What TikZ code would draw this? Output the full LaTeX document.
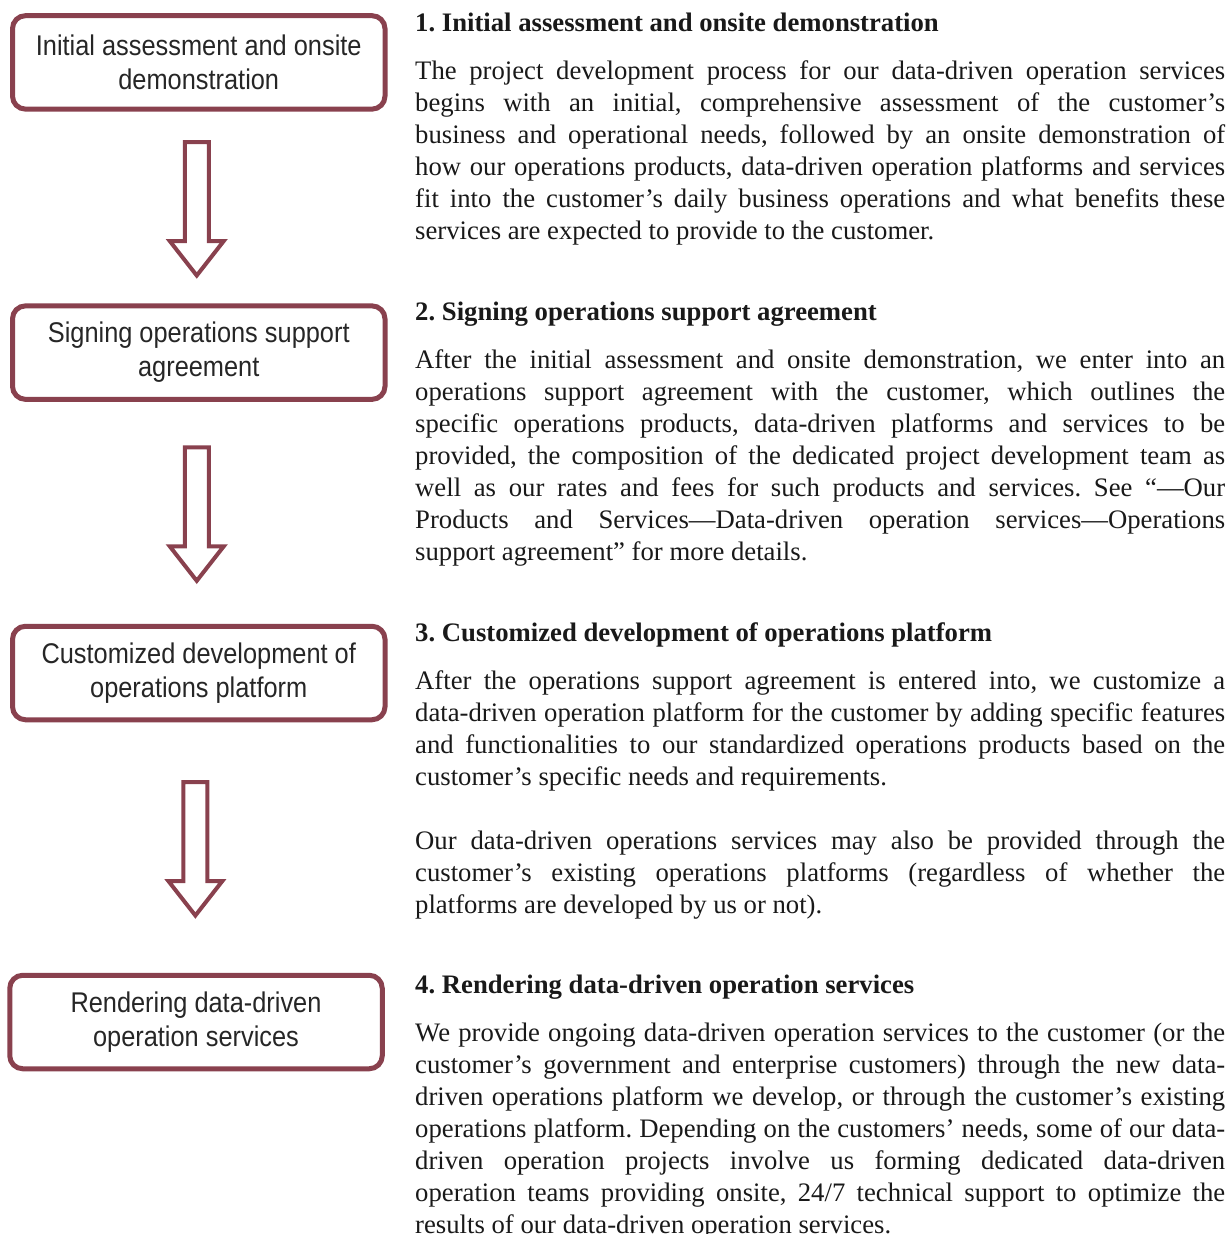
\documentclass[tikz,border=0pt]{standalone}
\usepackage{fontspec}
\setmainfont{Liberation Serif}
\newfontfamily\boxfont[FakeStretch=0.89]{Liberation Sans}
\usetikzlibrary{calc}
\definecolor{wine}{RGB}{137,65,78}
\def\sectfont{\fontsize{26.7}{32}\selectfont\frenchspacing\tolerance=10000\relax\hyphenpenalty=10000\relax}
\def\flowarrow(#1)(#2){\draw[arrowline] ($(#1.south)!0.5!(#2.north)+(-14,-65.5)$) -- ++(24,0) -- ++(0,99) -- ++(15,0) -- ($(#1.south)!0.5!(#2.north)+(-2,68)$) -- ++(-27,-34.5) -- ++(15,0) -- cycle;}

\begin{document}
\begin{tikzpicture}[x=1pt, y=-1pt,
		procbox/.style={draw=wine, line width=5pt, rounded corners=13pt, minimum width=372.5pt, minimum height=93.5pt, align=center, inner sep=0pt, text=black!85, font=\boxfont\fontsize{28.5}{34}\selectfont},
		arrowline/.style={line width=4pt, color=wine, line join=miter},
		sectext/.style={anchor=base west, inner sep=0pt, text width=810pt, align=justify, text=black!90, font=\sectfont}]
		%%%%% START %%%%%
		
		\useasboundingbox (0, 0) rectangle (1231, 1234);
		
		% steps
		\node[procbox] (b1) at (198.75, 62.4) {Initial assessment and onsite\\demonstration};
		\node[procbox] (b2) at (198.75, 352.6) {Signing operations support\\agreement};
		\node[procbox] (b3) at (198.75, 673) {Customized development of\\operations platform};
		\node[procbox] (b4) at (196, 1022) {Rendering data-driven\\operation services};
		
		\flowarrow(b1)(b2)
		\flowarrow(b2)(b3)
		\flowarrow(b3)(b4)
		
		% descriptions
		\node[sectext] (s1) at (415, 31) {\textbf{1. Initial assessment and onsite demonstration}\par\vspace{16.5pt}
			The project development process for our data-driven operation services\linebreak
			begins with an initial, comprehensive assessment of the customer’s\linebreak
			business and operational needs, followed by an onsite demonstration of\linebreak
			how our operations products, data-driven operation platforms and services\linebreak
			fit into the customer’s daily business operations and what benefits these\linebreak
			services are expected to provide to the customer.};
		
		\node[sectext] (s2) at (415, 320) {\textbf{2. Signing operations support agreement}\par\vspace{16.5pt}
			After the initial assessment and onsite demonstration, we enter into an\linebreak
			operations support agreement with the customer, which outlines the\linebreak
			specific operations products, data-driven platforms and services to be\linebreak
			provided, the composition of the dedicated project development team as\linebreak
			well as our rates and fees for such products and services. See “—Our\linebreak
			Products and Services—Data-driven operation services—Operations\linebreak
			support agreement” for more details.};
		
		\node[sectext] (s3) at (415, 641) {\textbf{3. Customized development of operations platform}\par\vspace{16.5pt}
			After the operations support agreement is entered into, we customize a\linebreak
			data-driven operation platform for the customer by adding specific features\linebreak
			and functionalities to our standardized operations products based on the\linebreak
			customer’s specific needs and requirements.\par\vspace{32pt}
			Our data-driven operations services may also be provided through the\linebreak
			customer’s existing operations platforms (regardless of whether the\linebreak
			platforms are developed by us or not).};
		
		\node[sectext] (s4) at (415, 993) {\textbf{4. Rendering data-driven operation services}\par\vspace{16.5pt}
			We provide ongoing data-driven operation services to the customer (or the\linebreak
			customer’s government and enterprise customers) through the new data-\linebreak
			driven operations platform we develop, or through the customer’s existing\linebreak
			operations platform. Depending on the customers’ needs, some of our data-\linebreak
			driven operation projects involve us forming dedicated data-driven\linebreak
			operation teams providing onsite, 24/7 technical support to optimize the\linebreak
			results of our data-driven operation services.};
		
		%%%%% END %%%%%
\end{tikzpicture}
\end{document}
